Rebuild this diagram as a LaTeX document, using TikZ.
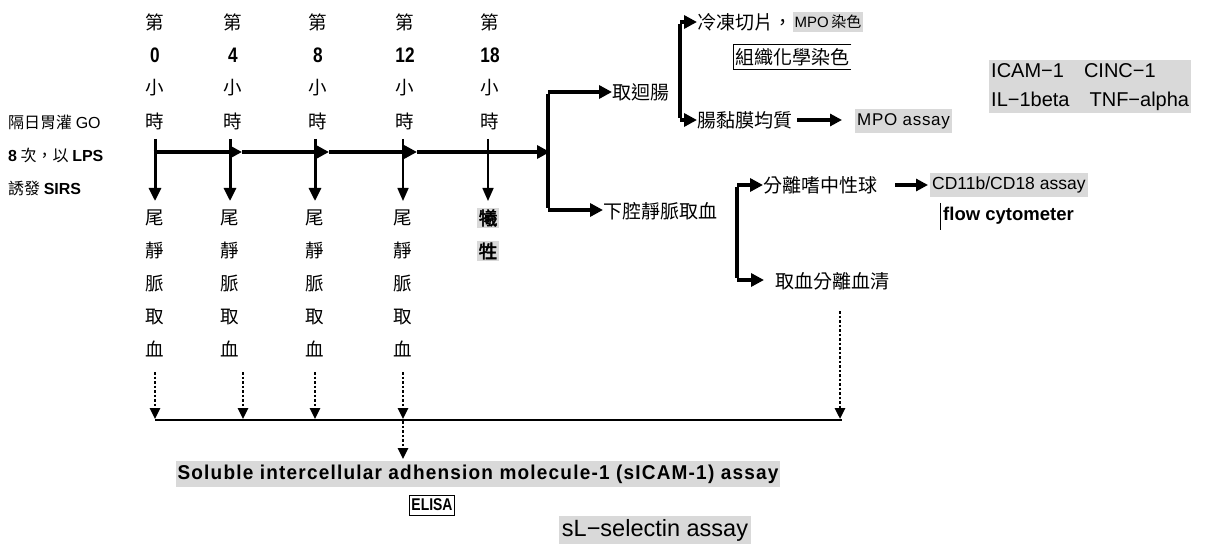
\documentclass[tikz,border=0pt]{standalone}
\usepackage{fontspec}
\setmainfont{Liberation Sans}
\newfontfamily\cjk{Noto Sans CJK TC}
\newfontfamily\cjkb[FakeBold=2.5]{Noto Sans CJK TC}
\newfontfamily\narrowb[FakeStretch=0.82]{Liberation Sans}
\newfontfamily\solfont[FakeStretch=0.95,LetterSpace=6]{Liberation Sans}
\usetikzlibrary{arrows.meta}
\definecolor{hl}{HTML}{D9D9D9}
\begin{document}
\begin{tikzpicture}[x=1pt,y=-1pt,
  zh/.style={inner sep=0pt, font=\cjk\fontsize{18.5}{18.5}\selectfont},
  zhr/.style={inner sep=0pt, font=\cjk\fontsize{19}{19}\selectfont},
  zhl/.style={inner sep=0pt, font=\cjk\fontsize{16}{16}\selectfont},
  num/.style={inner sep=0pt, font=\narrowb\bfseries\fontsize{21}{21}\selectfont},
  hlbox/.style={fill=hl, inner xsep=2pt, inner ysep=4pt},
  thick arrow/.style={line width=4pt, -{Triangle[length=13pt,width=13pt]}},
  vthick/.style={line width=3pt, -{Triangle[length=13pt,width=12pt]}},
  vthin/.style={line width=1.6pt, -{Triangle[length=13pt,width=11pt]}},
  dotarrow/.style={line width=2.5pt, dash pattern=on 2.5pt off 2pt, -{Triangle[length=11pt,width=10pt]}},
  bracket/.style={line width=4.5pt, -{Triangle[length=13pt,width=13pt]}}
]
\useasboundingbox (0,0) rectangle (1206,545);

% left text
\node[zhl, anchor=west] (l1) at (8,122) {隔日胃灌 {\fontspec{Liberation Sans}GO}};
\node[zhl, anchor=west] (l2) at (8,155) {{\fontspec{Liberation Sans}\bfseries 8} 次，以 {\fontspec{Liberation Sans}\bfseries LPS}};
\node[zhl, anchor=west] (l3) at (8,188) {誘發 {\fontspec{Liberation Sans}\bfseries SIRS}};

% time columns
\foreach \x/\n/\i in {155/0/0,233/4/1,318/8/2,405/12/3,490/18/4}{
  \node[zh] (d\i) at (\x,22) {第};
  \node[num] (n\i) at (\x,55) {\n};
  \node[zh] (s\i) at (\x,88) {小};
  \node[zh] (h\i) at (\x,121) {時};
}

% vertical arrows
\foreach \x/\i in {155/0,230/1,315/2}{
  \coordinate (vt\i) at (\x,139);
  \coordinate (vb\i) at (\x,201);
  \draw[vthick] (vt\i) -- (vb\i);
}
\foreach \x/\i in {403/3,488/4}{
  \coordinate (vt\i) at (\x,139);
  \coordinate (vb\i) at (\x,201);
  \draw[vthin] (vt\i) -- (vb\i);
}

% horizontal timeline
\coordinate (a0) at (153.5,152);
\coordinate (a1) at (242,152);
\coordinate (a2) at (329,152);
\coordinate (a3) at (417,152);
\coordinate (a4) at (550,152);
\draw[thick arrow] (a0) -- (a1);
\draw[thick arrow] (a1) -- (a2);
\draw[thick arrow] (a2) -- (a3);
\draw[thick arrow] (a3) -- (a4);

% blood sampling labels
\foreach \x/\i in {155/0,230/1,315/2,403/3}{
  \node[zh] (b\i a) at (\x,218) {尾};
  \node[zh] (b\i b) at (\x,251) {靜};
  \node[zh] (b\i c) at (\x,284) {脈};
  \node[zh] (b\i d) at (\x,317) {取};
  \node[zh] (b\i e) at (\x,349) {血};
}
\node[zh, fill=hl, inner sep=1.5pt, font=\cjkb\fontsize{18.5}{18.5}\selectfont] (k1) at (488,218) {犧};
\node[zh, fill=hl, inner sep=1.5pt, font=\cjkb\fontsize{18.5}{18.5}\selectfont] (k2) at (488,251) {牲};

% right tree
\coordinate (r1) at (548,92);
\coordinate (r2) at (548,210);
\node[zhr, anchor=west] (ileum) at (612,92) {取迴腸};
\node[zhr, anchor=west] (ivc) at (603,211) {下腔靜脈取血};
\draw[bracket] (r1) -- (r1 -| ileum.west);
\draw[line width=4.5pt] ([yshift=-2.25pt]r1) -- ([yshift=2.25pt]r2);
\draw[bracket] (r2) -- (r2 -| ivc.west);

% ileum branch
\coordinate (p1) at (680,22);
\coordinate (p2) at (680,120);
\node[zhr, anchor=west] (frz) at (697,22) {冷凍切片，};
\node[anchor=west, hlbox, inner ysep=3pt, font=\fontsize{15}{15}\selectfont] (mpo1) at (frz.east) {MPO\,{\cjk 染色}};
\node[zhr, anchor=west, inner xsep=2pt, inner ysep=3.5pt] (histo) at (733,57) {組織化學染色};
\draw[line width=0.7pt] (histo.north east) -- (histo.north west) -- (histo.south west) -- (histo.south east);
\node[zhr, anchor=west] (muc) at (697,120) {腸黏膜均質};
\draw[bracket] (p1) -- (p1 -| frz.west);
\draw[line width=4.5pt] ([yshift=-2.25pt]p1) -- ([yshift=2.25pt]p2);
\draw[bracket] (p2) -- (p2 -| muc.west);
\node[anchor=west, hlbox, font=\fontsize{17}{17}\selectfont] (mpo2) at (855,121) {\addfontfeature{LetterSpace=4}MPO assay};
\coordinate (m1) at (797,120);
\draw[line width=4pt, -{Triangle[length=12pt,width=12pt]}] (m1) -- (842,120);

% cytokines
\node[anchor=north west, fill=hl, inner xsep=2pt, inner ysep=3pt, align=left, font=\fontsize{20}{29}\selectfont] (cyto) at (989,60) {ICAM−1\quad CINC−1\\IL−1beta\quad TNF−alpha};

% blood branch
\coordinate (q1) at (737,185);
\coordinate (q2) at (737,280);
\node[zhr, anchor=west] (neu) at (763,185) {分離嗜中性球};
\node[zhr, anchor=west] (ser) at (775,281) {取血分離血清};
\draw[bracket] (q1) -- (q1 -| neu.west);
\draw[line width=4.5pt] ([yshift=-2.25pt]q1) -- ([yshift=2.25pt]q2);
\coordinate (q2e) at (764,280);
\draw[bracket] (q2) -- (q2e);
\node[anchor=west, hlbox, font=\fontsize{17.5}{17.5}\selectfont] (cd) at (930,185) {CD11b/CD18 assay};
\coordinate (m2) at (895,185);
\draw[line width=4pt, -{Triangle[length=12pt,width=12pt]}] (m2) -- ([xshift=-2pt]cd.west);
\node[anchor=west, inner sep=0pt, font=\bfseries\fontsize{18.5}{18.5}\selectfont] (flow) at (943,216) {flow cytometer};
\draw[line width=0.8pt] (940,203) -- (940,230);

% dotted arrows to bottom line
\coordinate (base0) at (155,420);
\coordinate (base4) at (842,420);
\draw[line width=1.6pt] (base0) -- (base4);
\foreach \x/\i in {155/0,243/1,315/2,403/3}{
  \coordinate (dt\i) at (\x,372);
  \draw[dotarrow] (dt\i) -- (\x,419);
}
\coordinate (dt4) at (840,311);
\draw[dotarrow] (dt4) -- (840,419);

\coordinate (dm) at (403,421);
\node[anchor=center, fill=hl, inner xsep=2pt, inner ysep=4pt, font=\solfont\bfseries\fontsize{20}{20}\selectfont] (sol) at (478,474) {Soluble intercellular adhension molecule-1 (sICAM-1) assay};
\draw[dotarrow] (dm) -- (403,459);

\node[draw, line width=0.8pt, inner xsep=2pt, inner ysep=4pt, font=\narrowb\bfseries\fontsize{17}{17}\selectfont] (elisa) at (432,505) {ELISA};
\node[fill=hl, inner xsep=3pt, inner ysep=3pt, font=\fontsize{23.5}{23.5}\selectfont] (sl) at (655,530) {sL−selectin assay};
\end{tikzpicture}
\end{document}
